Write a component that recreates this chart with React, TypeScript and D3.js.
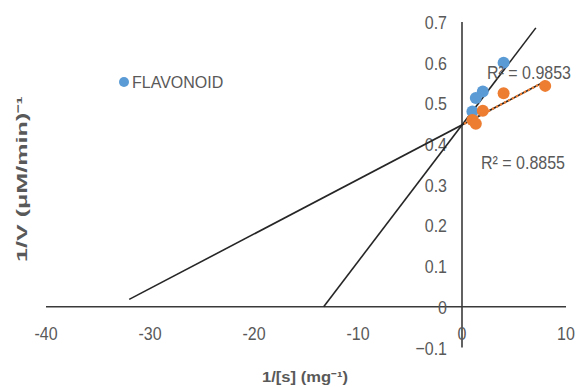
import React from 'react'
import * as d3 from 'd3'

// reciprocal substrate (x) and reciprocal velocity (y)
const flavonoidX = [1, 1.33, 2, 4]
const flavonoidY = [0.48, 0.513, 0.529, 0.6]
const controlX = [1, 1.33, 2, 4, 8]
const controlY = [0.459, 0.45, 0.482, 0.525, 0.543]

// trendlines as drawn (slope, intercept, start/end of the forecast)
const trendSlope = [0.0336, 0.0134]
const trendIntercept = [0.447, 0.447]
const trendFrom = [-13.3, -32]
const trendTo = [7.1, 8]
const rSquared = ['R² = 0.9853', 'R² = 0.8855']

const xTicks = [-40, -30, -20, -10, 0, 10]
const yTicks = [-0.1, 0, 0.1, 0.2, 0.3, 0.4, 0.5, 0.6, 0.7]

const W = 577
const H = 387
const BLUE = '#5B9BD5'
const ORANGE = '#ED7D31'
const GREY = '#595959'
const FONT = "'Liberation Sans', Arial, sans-serif"

// the reference's numbers are tall and narrow, so stretch them a bit vertically
const Num = ({ x, y, anchor = 'start', children }: { x: number; y: number; anchor?: string; children: any }) => (
  <text transform={`translate(${x},${y}) scale(1,1.2)`} textAnchor={anchor} fontFamily={FONT}
    fontSize={16} fill={GREY}>{children}</text>
)

const App = () => {
  const x = d3.scaleLinear().domain([-40, 10]).range([46, 566])
  const y = d3.scaleLinear().domain([-0.1, 0.7]).range([347.5, 22])

  const line = d3.line<number>()
  const trend = (i: number, a: number, b: number) =>
    line([
      [x(a), y(trendIntercept[i] + trendSlope[i] * a)],
      [x(b), y(trendIntercept[i] + trendSlope[i] * b)],
    ]) as string

  return (
    <svg width={W} height={H} style={{ position: 'absolute', left: 0, top: 0, background: '#fff' }}>
      {/* axes */}
      <line x1={x(-40)} x2={x(10)} y1={y(0)} y2={y(0)} stroke="#3a3a3a" strokeWidth={1.6} />
      <line x1={x(0)} x2={x(0)} y1={y(0.7)} y2={y(-0.1)} stroke="#3a3a3a" strokeWidth={1.6} />

      {/* tick labels */}
      {xTicks.map(t => (
        <Num key={'x' + t} x={x(t)} y={340} anchor="middle">{t}</Num>
      ))}
      {yTicks.map(t => (
        <Num key={'y' + t} x={447} y={y(t) + 7} anchor="end">{d3.format('.1~f')(t)}</Num>
      ))}

      {/* trendlines */}
      {trendSlope.map((_, i) => (
        <path key={'t' + i} d={trend(i, trendFrom[i], trendTo[i])} stroke="#262626"
          strokeWidth={1.6} fill="none" />
      ))}

      {/* points */}
      {flavonoidX.map((v, i) => (
        <circle key={'b' + i} cx={x(v)} cy={y(flavonoidY[i])} r={6} fill={BLUE} />
      ))}
      {controlX.map((v, i) => (
        <circle key={'o' + i} cx={x(v)} cy={y(controlY[i])} r={6} fill={ORANGE} />
      ))}
      <path d={trend(1, 0.2, 8)} stroke={ORANGE} strokeWidth={2.2} strokeDasharray="2.5,2" fill="none" />

      {/* R² labels */}
      <Num x={487} y={79}>{rSquared[0]}</Num>
      <Num x={481} y={169}>{rSquared[1]}</Num>

      {/* legend */}
      <circle cx={124} cy={82} r={5} fill={BLUE} />
      <text x={132} y={82} dy="0.35em" fontFamily={FONT} fontSize={16} fill={GREY}>FLAVONOID</text>

      {/* axis titles */}
      <text transform="translate(27,179) rotate(-90)" textAnchor="middle" fontFamily={FONT}
        fontWeight="bold" fontSize={15} fill={GREY} textLength={166}
        lengthAdjust="spacingAndGlyphs">1/V (μM/min)⁻¹</text>
      <text x={305} y={382} textAnchor="middle" fontFamily={FONT} fontWeight="bold" fontSize={14}
        fill={GREY} textLength={86} lengthAdjust="spacingAndGlyphs">1/[s] (mg⁻¹)</text>
    </svg>
  )
}

export default App
